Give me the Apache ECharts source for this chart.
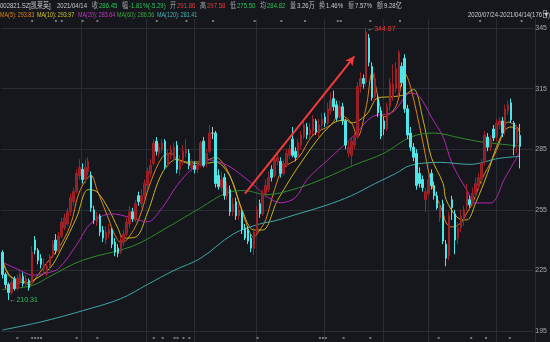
<!DOCTYPE html>
<html>
<head>
<meta charset="utf-8">
<title>凯莱英 日K</title>
<script src="https://cdn.jsdelivr.net/npm/echarts@6/dist/echarts.min.js"></script>
<style>
html, body { margin: 0; padding: 0; background: #15171c; }
#main { width: 550px; height: 342px; }
</style>
</head>
<body>
<div id="main"></div>
<script type="text/javascript">
// 交易日（2020/07/24 - 2021/04/14，共176日）
var tradeDays = [
	['2020-07', [24,27,28,29,30,31]],
	['2020-08', [3,4,5,6,7,10,11,12,13,14,17,18,19,20,21,24,25,26,27,28,31]],
	['2020-09', [1,2,3,4,7,8,9,10,11,14,15,16,17,18,21,22,23,24,25,28,29,30]],
	['2020-10', [9,12,13,14,15,16,19,20,21,22,23,26,27,28,29,30]],
	['2020-11', [2,3,4,5,6,9,10,11,12,13,16,17,18,19,20,23,24,25,26,27,30]],
	['2020-12', [1,2,3,4,7,8,9,10,11,14,15,16,17,18,21,22,23,24,25,28,29,30,31]],
	['2021-01', [4,5,6,7,8,11,12,13,14,15,18,19,20,21,22,25,26,27,28,29]],
	['2021-02', [1,2,3,4,5,8,9,10,18,19,22,23,24,25,26]],
	['2021-03', [1,2,3,4,5,8,9,10,11,12,15,16,17,18,19,22,23,24,25,26,29,30,31]],
	['2021-04', [1,2,6,7,8,9,12,13,14]]
];

// 开盘 / 收盘 / 最低 / 最高
var opens = [234,223,218,214,220.5,216,220,222,218,220,219,240,235,231,226,223,227,232,240,235,
	242,246,248,254,259,264,272,275,270,274,272,255,249,252,245,240,243,245,239,236,
	234,239,243,248,254,250,262,258,262,267,273,278,289,283,285,289,277,282,280,287,
	275,279,283,283,276,277,275,277,289,278,284,293,293,272,266,271,262,265,254,259,
	252,254,246,245,241,236,244,258,253,263,265,275,272,279,279,273,277,282,290,284,
	281,287,291,296,292,294,299,293,297,301,298,304,310,307,301,306,299,283,282,287,
	291,316,320,318,340,326,311,310,304,299,295,306,311,315,313,326,330,305,293,286,
	283,273,270,260,263,273,267,262,251,258,238,232,260,253,241,246,250,257,260,258,
	263,267,270,279,291,286,295,291,297,299,294,304,308,298,288,291.86];
var closes = [223,218,214,219,216,221,223,218.5,221,216.5,234,235,230,228,228,227,232,238,235,242,
	249,251,254,261,264,273,276,270,276,279,256,250,252,244,241,244,245,238,234,233.5,
	240,243,249,254,250.5,258,259,262,268,274,277,288,284,286,288,276.5,283,285,286,275,
	279,284,285,277,278,275,277,288,277,283,293,293,268,266.5,270,262,266,254,258,252,
	255,245,241,239.5,236,244,255,253,263,267,271,271,280,281,273,278,283,285,282,281,
	288,292,297,292,295,300,293.5,297,300,298,305,309,306,300.5,306,299,287,286,289,291,
	316,320,317.5,343,328,310.5,320,303,291.5,295,306,318,317,325,333,318,305,292,286,281,
	267,268,266,264,270,267,262,256,256,239.5,231,252,256,240,246,252,255,264,257.5,263,
	268,271,278,292,286,290,290.5,298,299,293,305,307,299.5,286,295.5,286.45];
var lows = [221,216,210.31,213,215,215,218,217,217,215,218,233,228,226,223,222,225,231,233,234,
	241,245,247,252,257,263,270,268,268,272,254,248,247,242,239,238,241,236,232,231.5,
	233,237,242,246,249,249,257,256,260,265,271,277,282,281,283,275,276,280,279,273,
	272,277,281,275,274,273,273,276,276,276,283,290,266,265,264,260,260,252,252,250,
	250,243,240,238,234,232.5,243,251,252,261,264,269,271,277,271,272,276,280,281,279,
	280,285,290,290,290,292,292,291,295,296,297,302,304,299,300,297,285,281,277,285,
	290,313,315,316,326,309,309,301,290,292,294,304,309,313,311,316,303,290,284,279,
	265,266,264,254,262,265,260,255,249,238,227,230,250,233,238,244,247,255,256,257,
	261,265,268,277,284,284,289,289,295,291,292,302,298,282,283,275.5];
var highs = [235,224,219,221,222,223,225,224,223,221,237,242,236,233,231,229,233,240,243,244,
	251,253,256,263,266,275,280,278,280,281,274,257,254,253,247,247,248,246,241,238,
	242,245,251,257,256,260,264,265,270,276,280,290,291,288,290,290,285,287,288,289,
	282,287,290,285,280,279,279,289,291,285,297,296,294,275,274,273,269,267,261,261,
	258,255,248,247,243,246,257,260,265,270,274,277,282,283,281,280,285,287,296,286,
	290,294,300,298,298,302,300,300,303,303,308,313,314,309,309,308,300,289,291,293,
	318,323,322,344.87,342,328,323,312,306,301,308,320,327,328,334,328,332,307,296,288,
	285,276,272,266,272,275,269,264,259,260,240,254,262,255,249,255,257,268,262,266,
	271,273,280,294,293,292,297,300,301,301,307,309,310,299,297,297.58];

// 均线读数（取样点的交易日序号与数值）
var ma5Idx = [0,2,4,7,9,12,15,19,23,26,30,32,36,38,40,42,46,50,54,57,59,62,65,70,72,76,79,82,85,87,89,92,95,100,105,111,114,118,120,123,125,127,129,133,136,138,142,145,149,150,152,155,157,159,162,166,168,171,174,175];
var ma5Val = [231,222.7,221,220,217.8,222.7,228.7,236,247.5,263.8,272,264.8,250,242.6,239,240,250,268.3,281,283,280,278.7,278.7,280,281,274.7,263.3,250,241.5,245,250,265,275.7,280.6,292,297,302,298,291,306,322.7,310.8,301,306,322.7,315.8,289.6,268.3,253.4,248.5,246.5,248.5,253.4,258.4,269.8,281,288,298.5,296,293.83];
var ma10Idx = [0,3,8,10,16,20,25,29,32,36,39,41,45,49,54,59,63,69,72,77,81,85,88,93,102,111,116,118,123,127,132,136,139,142,145,149,150,154,157,160,164,167,170,172,175];
var ma10Val = [228.7,221.8,218.8,219.7,226,236,251,265,263.8,255,246,241,241.5,253.4,273.2,280,278,278,278.7,271.3,255,245,245,259.7,280.6,297,299.5,298,302,310.4,311,312,314.6,301,281,268,260,251,250,258.4,273,286,294.5,296,293.97];
var ma20Idx = [0,6,10,15,19,25,30,37,40,46,49,54,59,64,70,76,81,86,89,94,99,103,111,119,125,132,138,141,145,149,152,157,160,165,170,175];
var ma20Val = [229,225,222.7,223.7,226,237.5,248.5,253,252.4,250,249,256,267,275,279.7,277,272,266,262,258.5,261,270,281,292,301,303.4,312.8,311,301,291,278,264.8,258.4,258.4,271,283.64];
var ma60Idx = [0,10,16,27,44,56,67,76,82,89,100,109,119,129,138,146,155,162,175];
var ma60Val = [215.5,217.5,222,230,237,246.5,256,263.5,264.5,262.5,265.8,270.7,277.2,283,291,293,290.5,288.6,286.56];
var ma120Idx = [0,13,27,40,49,58,67,78,87,92,100,109,118,126,133,138,148,158,168,175];
var ma120Val = [195.5,199.5,205,211,218,225,231,243,248,249.5,253,257,262,268,273,277,278.5,277.5,280.5,281.41];

// 信息地雷标记（交易日序号）：顶部一排、底部一排
var topMarks = [10,18,20,27,32,52,62,71,85,94,102,113,114,124,134,161,175];
var bottomMarks = [5,10,11,12,13,25,32,51,54,58,59,61,63,86,107,108,109,115,124,147,158,163,171];

// 画线：上涨箭头起止（交易日序号，价格）
var arrowFrom = [82, 263];
var arrowTo = [119, 331];

var dates = [];
tradeDays.forEach(function (m) {
	m[1].forEach(function (d) {
		dates.push(m[0] + '-' + (d < 10 ? '0' + d : d));
	});
});
// 月初分隔线（从9月开始画）
var monthStart = {};
for (var i = 1; i < dates.length; i++) {
	if (dates[i].slice(0, 7) !== dates[i - 1].slice(0, 7) && i > 10) {
		monthStart[i] = true;
	}
}

var kData = [];
for (var i = 0; i < dates.length; i++) {
	kData.push([opens[i], closes[i], lows[i], highs[i]]);
}
function pairs(idx, val) {
	var out = [];
	for (var i = 0; i < idx.length; i++) out.push([idx[i], val[i]]);
	return out;
}
function lane(idx, v) {
	return idx.map(function (k) { return [k, v]; });
}

var FONT = "'Liberation Sans','Noto Sans CJK SC',sans-serif";
var C_UP = '#e8393b', C_DOWN = '#2fc25b', C_TXT = '#c9cbcf', C_LBL = '#a6a8ac';

function maLine(name, idx, val, color) {
	return {
		name: name, type: 'line', data: pairs(idx, val),
		xAxisIndex: 0, yAxisIndex: 0,
		smooth: 0.35, showSymbol: false, symbol: 'none', silent: true,
		lineStyle: { color: color, width: 1 }, z: 3
	};
}

// 顶部文字（字体横向压缩）
function txt(x, y, s, color, sx) {
	return { type: 'text', x: x, y: y, scaleX: sx || 0.8, silent: true,
		style: { text: s, fill: color, font: '7.5px ' + FONT, textVerticalAlign: 'middle' } };
}

var hiddenCat = { show: false, type: 'category', data: dates, max: 179, boundaryGap: true };

var myChart = echarts.init(document.getElementById('main'));
myChart.setOption({
	backgroundColor: '#15171c',
	animation: false,
	grid: [
		{ left: 1, right: 15, top: 28, bottom: 11 },
		{ left: 1, right: 15, top: 19, bottom: 0 },
		{ left: 1, right: 15, top: 21, bottom: 4 }
	],
	xAxis: [
		{ type: 'category', gridIndex: 0, data: dates, max: 179, boundaryGap: true,
			axisLine: { show: false }, axisTick: { show: false }, axisLabel: { show: false },
			splitLine: { show: false } },
		{ type: 'category', gridIndex: 1, data: dates, max: 179, boundaryGap: true,
			axisLine: { show: false }, axisTick: { show: false }, axisLabel: { show: false },
			splitLine: { show: true, interval: function (idx) { return !!monthStart[idx]; },
				lineStyle: { color: '#2a2d33', width: 1 } } },
		Object.assign({ gridIndex: 2 }, hiddenCat)
	],
	yAxis: [
		{ type: 'value', gridIndex: 0, position: 'right', min: 195, max: 345, interval: 30,
			axisLine: { show: false }, axisTick: { show: false },
			axisLabel: { color: '#a8aaae', fontSize: 7, fontFamily: FONT, margin: 2 },
			splitLine: { lineStyle: { color: '#2a2d33', width: 1 } } },
		{ type: 'value', gridIndex: 1, min: 0, max: 1, show: false, splitLine: { show: false } },
		{ type: 'value', gridIndex: 2, min: 0, max: 1, show: false, splitLine: { show: false } }
	],
	series: [
		{
			name: 'K', type: 'candlestick', data: kData, barWidth: 2, z: 4,
			itemStyle: {
				color: '#8a1e24', borderColor: '#9e2228',
				color0: '#4fe6ea', borderColor0: '#4fe6ea',
				borderColorDoji: '#c8c8c8', borderWidth: 1
			},
			markPoint: {
				symbol: 'circle', symbolSize: 0, silent: true,
				data: [
					{ coord: [123, 344.87], value: 344.87,
						label: { show: true, position: 'right', offset: [-4, 1],
							formatter: '{a|←}{r|344.87}',
							rich: { a: { color: '#b0b0b0', fontSize: 7, fontFamily: FONT },
								r: { color: C_UP, fontSize: 7, fontFamily: FONT } } } },
					{ coord: [2, 210.31], value: 210.31,
						label: { show: true, position: 'right', offset: [-4, 0],
							formatter: '{a|←}{g|210.31}',
							rich: { a: { color: '#b0b0b0', fontSize: 7, fontFamily: FONT },
								g: { color: C_DOWN, fontSize: 7, fontFamily: FONT } } } }
				]
			},
			markLine: {
				silent: true, symbol: ['none', 'arrow'], symbolSize: [7, 9],
				lineStyle: { color: '#f23a3a', width: 2, type: 'solid' },
				label: { show: false },
				data: [[{ coord: arrowFrom }, { coord: arrowTo }]]
			}
		},
		maLine('MA5', ma5Idx, ma5Val, '#e0821c'),
		maLine('MA10', ma10Idx, ma10Val, '#c9b320'),
		maLine('MA20', ma20Idx, ma20Val, '#b526b5'),
		maLine('MA60', ma60Idx, ma60Val, '#2f8a2a'),
		maLine('MA120', ma120Idx, ma120Val, '#3fa7a8'),
		{
			name: '地雷', type: 'scatter', xAxisIndex: 2, yAxisIndex: 2, silent: true,
			symbol: 'rect', symbolSize: [2, 2], itemStyle: { color: '#8d9095' },
			data: lane(topMarks, 1).concat(lane(bottomMarks, 0))
		}
	],
	graphic: [
		txt(0, 6, '002821.SZ[凯莱英]', C_TXT),
		txt(57, 6, '2021/04/14', C_TXT),
		txt(92, 6, '收', C_LBL), txt(99, 6, '286.45', C_DOWN),
		txt(122, 6, '幅', C_LBL), txt(129, 6, '-1.81%(-5.29)', C_DOWN),
		txt(170, 6, '开', C_LBL), txt(177, 6, '291.86', C_UP),
		txt(200, 6, '高', C_LBL), txt(207, 6, '297.58', C_UP),
		txt(230, 6, '低', C_LBL), txt(237, 6, '275.50', C_DOWN),
		txt(260, 6, '均', C_LBL), txt(267, 6, '284.82', C_DOWN),
		txt(290, 6, '量', C_LBL), txt(297, 6, '3.26万', C_TXT),
		txt(319, 6, '换', C_LBL), txt(326, 6, '1.46%', C_TXT),
		txt(348, 6, '振', C_LBL), txt(355, 6, '7.57%', C_TXT),
		txt(377, 6, '额', C_LBL), txt(384, 6, '9.28亿', C_TXT),
		txt(0, 15, 'MA(5): 293.83', '#e0821c', 0.72),
		txt(37, 15, 'MA(10): 293.97', '#d4c22a', 0.72),
		txt(78, 15, 'MA(20): 283.64', '#c23ac2', 0.72),
		txt(117, 15, 'MA(60): 286.56', '#3aa63a', 0.72),
		txt(157, 15, 'MA(120): 281.41', '#47b8b8', 0.72),
		txt(468, 15, '2020/07/24-2021/04/14(176日)', C_TXT, 0.8),
		txt(543, 15, '▼', C_TXT, 0.9)
	]
});
</script>
</body>
</html>
